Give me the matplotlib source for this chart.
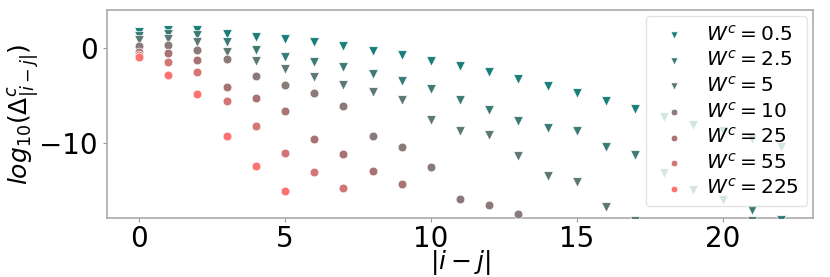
import numpy as np
import matplotlib
matplotlib.use("Agg")
import matplotlib.pyplot as plt

nan = np.nan
dist = list(range(23))

labels = ["0.5", "2.5", "5", "10", "25", "55", "225"]
colors = ["#1a7f7b", "#3c7a76", "#5c7774", "#8a7a7a", "#a97374", "#d57676", "#fe7272"]
markers = ["v", "v", "v", "o", "o", "o", "o"]

w05 = [1.65, 1.90, 1.90, 1.51, 1.20, 0.95, 0.59, 0.24, -0.29, -0.78, -1.35, -1.92,
       -2.54, -3.22, -3.99, -4.79, -5.63, -6.43, -7.24, -8.12, -8.76, -9.64, -10.42]
w25 = [1.30, 1.48, 1.41, 0.60, -0.21, -0.95, -1.48, -2.05, -2.72, -3.46, -4.34, -5.48,
       -6.54, -7.70, -8.41, -8.73, -10.46, -11.30, -13.24, -15.05, -16.05, -17.08, -18.2]
w5 = [0.88, 0.99, 0.67, -0.37, -1.42, -2.19, -3.07, -3.93, -4.66, -5.48, -7.60, -8.76,
      -9.18, -11.41, -13.53, -14.13, -16.81, -18.3, nan, nan, nan, -18.25, nan]
w10 = [0.22, 0.30, -0.25, -1.17, -2.93, -3.89, -4.77, -6.17, -9.26, -10.48, -12.54, -15.91,
       -16.57, -17.52, nan, nan, nan, nan, nan, nan, nan, nan, nan]
w25c = [-0.42, -0.57, -1.29, -4.13, -5.30, -6.64, -9.58, -11.22, -13.02, -14.41] + [nan] * 13
w55 = [-0.70, -1.48, -2.58, -5.55, -8.23, -11.12, -13.14, -14.77] + [nan] * 15
w225 = [-0.95, -2.90, -4.87, -9.32, -12.43, -15.08] + [nan] * 17

series = [w05, w25, w5, w10, w25c, w55, w225]

fig = plt.figure(figsize=(8.3, 2.77), dpi=100)
ax = fig.add_axes([0.129, 0.212, 0.8505, 0.751])

for vals, lab, col, mk in zip(series, labels, colors, markers):
    ax.scatter(dist, vals, s=48 if mk == "v" else 40, marker=mk, color=col,
               edgecolors="white", linewidths=0.5, label=r"$W^c = %s$" % lab, zorder=3)

ax.set_xlim(-1.1, 23.1)
ax.set_ylim(-18, 4)
ax.set_xticks([0, 5, 10, 15, 20])
ax.set_yticks([-10, 0])
ax.tick_params(labelsize=20, colors="#999999", labelcolor="black", length=3, width=0.8)
ax.tick_params(axis="x", pad=1.5)
for sp in ax.spines.values():
    sp.set_color("#aaaaaa")
    sp.set_linewidth(1.2)

ax.set_xlabel(r"$|i-j|$", fontsize=18, labelpad=-3)
ax.set_ylabel(r"$log_{10}(\Delta^c_{|i-j|})$", fontsize=18, labelpad=-1)

leg = ax.legend(loc="upper right", fontsize=14.5, markerscale=0.75, framealpha=0.8,
                borderaxespad=0.3, handletextpad=0.6, labelspacing=0.28,
                edgecolor="#dddddd")

fig.savefig("out.png", dpi=100)
